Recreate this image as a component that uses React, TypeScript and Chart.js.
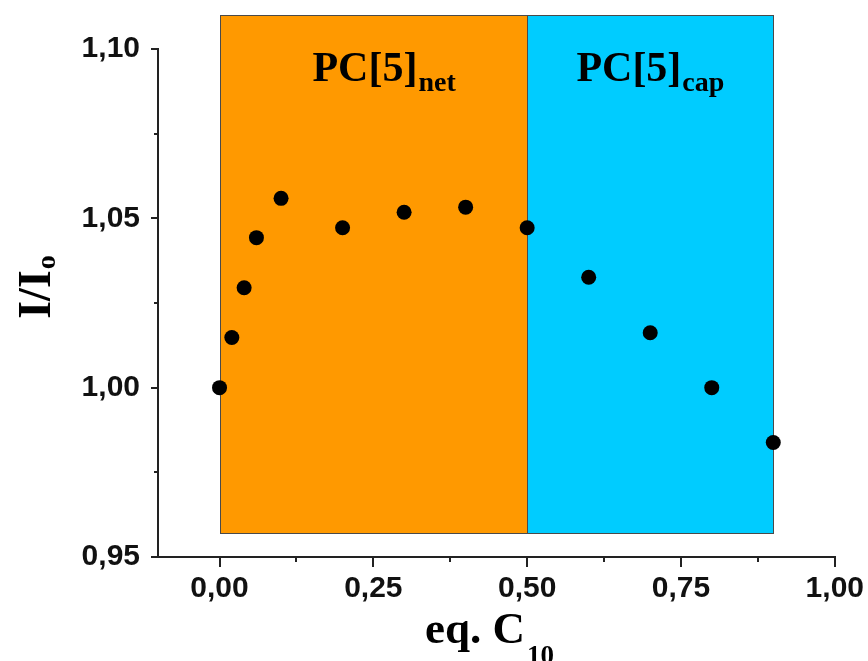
import React, { useEffect, useRef } from 'react';
import { Chart, registerables } from 'chart.js';

Chart.register(...registerables);

// ---- data ----
const xValues = [0, 0.02, 0.04, 0.06, 0.1, 0.2, 0.3, 0.4, 0.5, 0.6, 0.7, 0.8, 0.9];
const yValues = [1.0, 1.0148, 1.0295, 1.0443, 1.0559, 1.0472, 1.0518, 1.0533, 1.0472, 1.0326, 1.0162, 1.0, 0.9838];

const xTicks = [0, 0.25, 0.5, 0.75, 1.0];
const yTicks = [0.95, 1.0, 1.05, 1.1];
const xMinorTicks = [0.125, 0.375, 0.625, 0.875];
const yMinorTicks = [0.975, 1.025, 1.075];

const regionStart = [0, 0.5];
const regionEnd = [0.5, 0.9];
const regionBottom = 0.957;
const regionTop = 1.11;
const regionColors = ['#FF9900', '#00CCFF'];
const regionLabels = ['PC[5]', 'PC[5]'];
const regionSubs = ['net', 'cap'];
const regionLabelX = [0.151, 0.58];
const regionLabelY = 1.0905;

const xTitleMain = 'eq. C';
const xTitleSub = '10';
const yTitleMain = 'I/I';
const yTitleSub = 'o';

const fmt = (v: number) => v.toFixed(2).replace('.', ',');

const AXIS_COLOR = '#222';

const decorPlugin = {
  id: 'decor',
  beforeDatasetsDraw(chart: any) {
    const { ctx } = chart;
    const x = chart.scales.x;
    const y = chart.scales.y;
    ctx.save();
    for (let i = 0; i < regionStart.length; i++) {
      const l = Math.round(x.getPixelForValue(regionStart[i]));
      const r = Math.round(x.getPixelForValue(regionEnd[i]));
      const t = Math.round(y.getPixelForValue(regionTop));
      const b = Math.round(y.getPixelForValue(regionBottom));
      ctx.fillStyle = regionColors[i];
      ctx.fillRect(l, t, r - l, b - t);
      ctx.strokeStyle = '#4a4a4a';
      ctx.lineWidth = 1;
      ctx.strokeRect(l + 0.5, t + 0.5, r - l, b - t);
    }
    for (let i = 0; i < regionLabels.length; i++) {
      const lx = x.getPixelForValue(regionLabelX[i]);
      const ly = y.getPixelForValue(regionLabelY);
      ctx.fillStyle = '#000';
      ctx.textAlign = 'left';
      ctx.textBaseline = 'alphabetic';
      ctx.font = 'bold 42px "Liberation Serif"';
      ctx.fillText(regionLabels[i], lx, ly);
      const w = ctx.measureText(regionLabels[i]).width;
      ctx.font = 'bold 28px "Liberation Serif"';
      ctx.fillText(regionSubs[i], lx + w + 1, ly + 10);
    }
    ctx.restore();
  },
  afterDraw(chart: any) {
    const { ctx, chartArea } = chart;
    const x = chart.scales.x;
    const y = chart.scales.y;
    ctx.save();
    ctx.strokeStyle = AXIS_COLOR;
    ctx.lineWidth = 2;
    ctx.beginPath();
    for (const v of xMinorTicks) {
      const px = Math.round(x.getPixelForValue(v));
      ctx.moveTo(px, chartArea.bottom);
      ctx.lineTo(px, chartArea.bottom + 5);
    }
    for (const v of yMinorTicks) {
      const py = Math.round(y.getPixelForValue(v));
      ctx.moveTo(chartArea.left, py);
      ctx.lineTo(chartArea.left - 4, py);
    }
    ctx.stroke();

    // x title
    ctx.fillStyle = '#000';
    ctx.textBaseline = 'alphabetic';
    ctx.textAlign = 'left';
    ctx.font = 'bold 45px "Liberation Serif"';
    const wm = ctx.measureText(xTitleMain).width;
    ctx.font = 'bold 27px "Liberation Serif"';
    const ws = ctx.measureText(xTitleSub).width;
    const cx = (chartArea.left + chartArea.right) / 2 - 7;
    const bx = chartArea.bottom + 86;
    const startX = cx - (wm + ws + 2) / 2;
    ctx.font = 'bold 45px "Liberation Serif"';
    ctx.fillText(xTitleMain, startX, bx);
    ctx.font = 'bold 27px "Liberation Serif"';
    ctx.fillText(xTitleSub, startX + wm + 2, bx + 21);

    // y title (rotated)
    ctx.font = 'bold 46px "Liberation Serif"';
    const ym = ctx.measureText(yTitleMain).width;
    ctx.font = 'bold 28px "Liberation Serif"';
    const ys = ctx.measureText(yTitleSub).width;
    const cy = (chartArea.top + chartArea.bottom) / 2 - 16;
    const by = chartArea.left - 108;
    ctx.translate(by, cy);
    ctx.rotate(-Math.PI / 2);
    const sx = -(ym + ys + 1) / 2;
    ctx.font = 'bold 46px "Liberation Serif"';
    ctx.fillText(yTitleMain, sx, 0);
    ctx.font = 'bold 28px "Liberation Serif"';
    ctx.fillText(yTitleSub, sx + ym + 1, 5);
    ctx.restore();
  },
};

export default function App() {
  const canvasRef = useRef<HTMLCanvasElement | null>(null);

  useEffect(() => {
    if (!canvasRef.current) return;
    const chart = new Chart(canvasRef.current, {
      type: 'scatter',
      data: {
        datasets: [
          {
            data: xValues.map((v, i) => ({ x: v, y: yValues[i] })),
            backgroundColor: '#000',
            borderColor: '#000',
            borderWidth: 0,
            pointRadius: 7.5,
            pointHoverRadius: 7.5,
          },
        ],
      },
      options: {
        responsive: false,
        animation: false,
        layout: { padding: { top: 49, right: 33, left: 0, bottom: 0 } },
        plugins: {
          legend: { display: false },
          tooltip: { enabled: false },
        },
        scales: {
          x: {
            type: 'linear',
            min: -0.1,
            max: 1.0,
            afterBuildTicks: (s: any) => {
              s.ticks = xTicks.map((v) => ({ value: v }));
            },
            afterFit: (s: any) => {
              s.height = 104;
            },
            ticks: {
              callback: (v: any) => fmt(Number(v)),
              font: { family: '"Liberation Sans"', size: 30, weight: 'bold' },
              color: '#111',
              padding: 4,
              maxRotation: 0,
            },
            grid: {
              drawOnChartArea: false,
              drawTicks: true,
              tickLength: 10,
              color: AXIS_COLOR,
              lineWidth: 2,
            },
            border: { display: true, color: AXIS_COLOR, width: 2 },
          },
          y: {
            type: 'linear',
            min: 0.95,
            max: 1.1,
            afterBuildTicks: (s: any) => {
              s.ticks = yTicks.map((v) => ({ value: v }));
            },
            afterFit: (s: any) => {
              s.width = 158;
            },
            ticks: {
              callback: (v: any) => fmt(Number(v)),
              font: { family: '"Liberation Sans"', size: 30, weight: 'bold' },
              color: '#111',
              padding: 11,
            },
            grid: {
              drawOnChartArea: false,
              drawTicks: true,
              tickLength: 7,
              color: AXIS_COLOR,
              lineWidth: 2,
            },
            border: { display: true, color: AXIS_COLOR, width: 2 },
          },
        },
      },
      plugins: [decorPlugin],
    });
    return () => chart.destroy();
  }, []);

  return (
    <div style={{ position: 'fixed', left: 0, top: 0, width: 868, height: 661, background: '#fff' }}>
      <canvas ref={canvasRef} width={868} height={661} style={{ display: 'block' }} />
    </div>
  );
}
